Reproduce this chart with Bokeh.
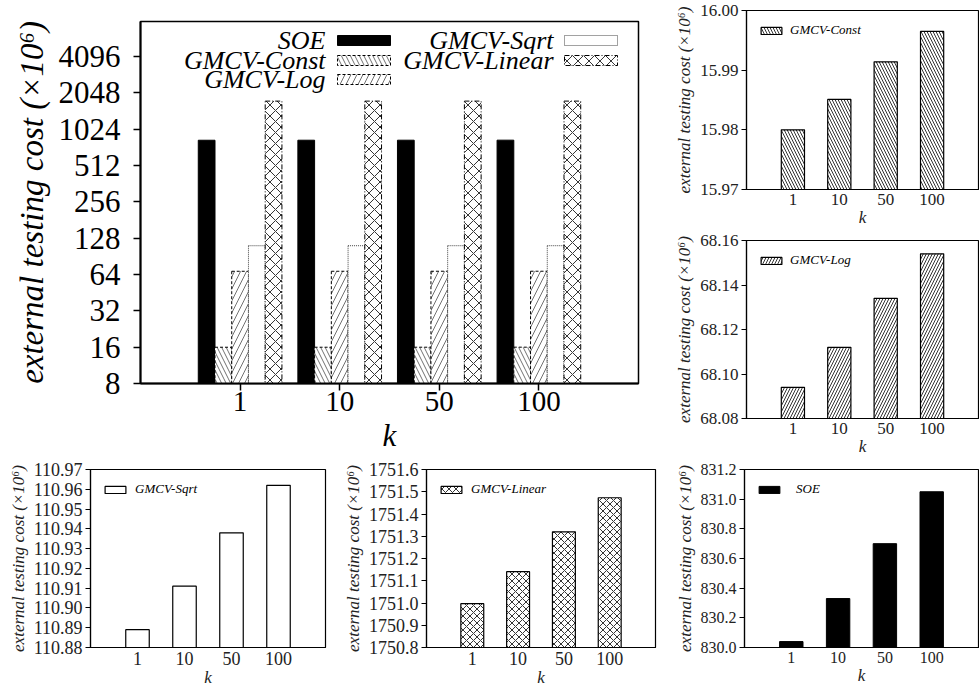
from bokeh.plotting import figure
from bokeh.models import (ColumnDataSource, Range1d, FixedTicker, PrintfTickFormatter,
                          Label, BoxAnnotation, Legend)
from bokeh.layouts import column, row
from bokeh.embed import file_html
from bokeh.resources import INLINE

FONT = "Liberation Serif"

# ---------------- data ----------------
K_LABELS = ["1", "10", "50", "100"]
SERIES = ["SOE", "GMCV-Const", "GMCV-Log", "GMCV-Sqrt", "GMCV-Linear"]
SOE = [830.04, 830.33, 830.70, 831.05]
CONST = [15.9800, 15.9851, 15.9914, 15.9965]
LOG = [68.094, 68.112, 68.134, 68.154]
SQRT = [110.889, 110.911, 110.938, 110.962]
LINEAR = [1750.997, 1751.141, 1751.320, 1751.473]

MAIN_Y_TICKS = [8, 16, 32, 64, 128, 256, 512, 1024, 2048, 4096]
MAIN_Y_MAX = 8000
CONST_TICKS = [15.97, 15.98, 15.99, 16.00]
LOG_TICKS = [68.08, 68.10, 68.12, 68.14, 68.16]
SQRT_TICKS = [110.88, 110.89, 110.90, 110.91, 110.92, 110.93, 110.94, 110.95, 110.96, 110.97]
LINEAR_TICKS = [1750.8, 1750.9, 1751.0, 1751.1, 1751.2, 1751.3, 1751.4, 1751.5, 1751.6]
SOE_TICKS = [830.0, 830.2, 830.4, 830.6, 830.8, 831.0, 831.2]

VALUES = {"SOE": SOE, "GMCV-Const": CONST, "GMCV-Log": LOG,
          "GMCV-Sqrt": SQRT, "GMCV-Linear": LINEAR}

YLABEL = "external testing cost (\u00d710\u2076)"

x_pos = [i + 1 for i in range(len(K_LABELS))]
k_overrides = {x: lab for x, lab in zip(x_pos, K_LABELS)}

# ---------------- styles ----------------
MAIN_STYLE = {
    "SOE": dict(fill_color="black", line_color="black", line_width=1),
    "GMCV-Const": dict(fill_color="white", line_color="black", line_width=1, line_dash="3 2",
                       hatch_pattern="\\", hatch_scale=9, hatch_weight=0.7, hatch_color="#333333"),
    "GMCV-Log": dict(fill_color="white", line_color="black", line_width=1, line_dash="3 2",
                     hatch_pattern="/", hatch_scale=12, hatch_weight=0.7, hatch_color="#333333"),
    "GMCV-Sqrt": dict(fill_color="white", line_color="#444444", line_width=1, line_dash="1 1"),
    "GMCV-Linear": dict(fill_color="white", line_color="black", line_width=1, line_dash="5 2 1 2",
                        hatch_pattern="x", hatch_scale=11, hatch_weight=0.8, hatch_color="black"),
}
SMALL_STYLE = {
    "SOE": dict(fill_color="black", line_color="black", line_width=1),
    "GMCV-Const": dict(fill_color="white", line_color="black", line_width=1.2,
                       hatch_pattern="\\", hatch_scale=6, hatch_weight=0.8, hatch_color="black"),
    "GMCV-Log": dict(fill_color="white", line_color="black", line_width=1.2,
                     hatch_pattern="/", hatch_scale=6, hatch_weight=0.8, hatch_color="black"),
    "GMCV-Sqrt": dict(fill_color="white", line_color="black", line_width=1.2),
    "GMCV-Linear": dict(fill_color="white", line_color="black", line_width=1.2,
                        hatch_pattern="x", hatch_scale=7, hatch_weight=0.8, hatch_color="black"),
}

# ---------------- main chart ----------------
MW, MH = 672, 458
MBL, MBR, MBT, MBB = 140, 34, 21, 75
FW = MW - MBL - MBR
FH = MH - MBT - MBB

main = figure(width=MW, height=MH, x_range=Range1d(0, len(K_LABELS) + 1),
              y_range=Range1d(MAIN_Y_TICKS[0], MAIN_Y_MAX), y_axis_type="log",
              output_backend="svg", toolbar_location=None,
              min_border_left=MBL, min_border_right=MBR, min_border_top=MBT, min_border_bottom=MBB)
main.xgrid.visible = False
main.ygrid.visible = False
main.outline_line_color = "black"
main.outline_line_width = 1.5

bw = 0.168
for j, name in enumerate(SERIES):
    off = (j - (len(SERIES) - 1) / 2) * bw
    src = ColumnDataSource(dict(x=[p + off for p in x_pos], top=VALUES[name]))
    main.vbar(x="x", top="top", bottom=MAIN_Y_TICKS[0], width=bw, source=src, **MAIN_STYLE[name])

main.yaxis.ticker = FixedTicker(ticks=MAIN_Y_TICKS)
main.yaxis.formatter = PrintfTickFormatter(format="%d")
main.xaxis.ticker = FixedTicker(ticks=x_pos)
main.xaxis.major_label_overrides = k_overrides
for ax in (main.xaxis[0], main.yaxis[0]):
    ax.axis_line_width = 2
    ax.axis_line_color = "black"
    ax.major_tick_line_width = 1.5
    ax.major_tick_out = 7
    ax.major_tick_in = 0
    ax.minor_tick_line_color = None
    ax.major_label_text_font = FONT
    ax.major_label_text_color = "black"
    ax.axis_label_text_font = FONT
    ax.axis_label_text_font_style = "italic"
    ax.axis_label_text_color = "black"
main.yaxis.major_label_text_font_size = "31px"
main.yaxis.major_label_standoff = 13
main.yaxis.axis_label = YLABEL
main.yaxis.axis_label_text_font_size = "33px"
main.yaxis.axis_label_standoff = 6
main.xaxis.major_label_text_font_size = "29px"
main.xaxis.major_label_standoff = 1
main.xaxis.axis_label = "k"
main.xaxis.axis_label_text_font_size = "31px"
main.xaxis.axis_label_standoff = 4

# manual legend (label left, swatch right), positions relative to the frame
LEG_ROWS = [("SOE", 0, 0), ("GMCV-Const", 0, 1), ("GMCV-Log", 0, 2),
            ("GMCV-Sqrt", 1, 0), ("GMCV-Linear", 1, 1)]
LEG_COL_TEXT_RIGHT = [185, 413]
LEG_COL_SWATCH = [(197, 250), (424, 477)]
LEG_ROW_DY = [19, 39, 58]
for name, c, r in LEG_ROWS:
    yc = FH - LEG_ROW_DY[r]
    main.add_layout(Label(x=LEG_COL_TEXT_RIGHT[c], y=yc, x_units="screen", y_units="screen",
                          text=name, text_align="right", text_baseline="middle",
                          text_font=FONT, text_font_style="italic", text_font_size="26px",
                          text_color="black"))
    st = dict(MAIN_STYLE[name])
    main.add_layout(BoxAnnotation(left=LEG_COL_SWATCH[c][0], right=LEG_COL_SWATCH[c][1],
                                  bottom=yc - 5, top=yc + 5,
                                  left_units="screen", right_units="screen",
                                  bottom_units="screen", top_units="screen",
                                  fill_alpha=1, line_alpha=1, **st))


# ---------------- small charts ----------------
def small_chart(name, values, ticks, fmt, width, height, borders, x_end, tick_font, standoff):
    mbl, mbr, mbt, mbb = borders
    p = figure(width=width, height=height, x_range=Range1d(0, x_end),
               y_range=Range1d(ticks[0], ticks[-1]),
               output_backend="svg", toolbar_location=None,
               min_border_left=mbl, min_border_right=mbr, min_border_top=mbt, min_border_bottom=mbb)
    p.xgrid.visible = False
    p.ygrid.visible = False
    p.outline_line_color = "black"
    p.outline_line_width = 1.2
    src = ColumnDataSource(dict(x=x_pos, top=values))
    r = p.vbar(x="x", top="top", bottom=ticks[0], width=0.5, source=src, **SMALL_STYLE[name])
    leg = Legend(items=[(name, [r])], location="top_left", margin=6, padding=6,
                 glyph_width=26, glyph_height=9, label_height=10, label_standoff=standoff,
                 label_text_font=FONT, label_text_font_style="italic", label_text_font_size="13px",
                 label_text_color="black", border_line_alpha=0, background_fill_alpha=0)
    p.add_layout(leg)
    p.yaxis.ticker = FixedTicker(ticks=ticks)
    p.yaxis.formatter = PrintfTickFormatter(format=fmt)
    p.xaxis.ticker = FixedTicker(ticks=x_pos)
    p.xaxis.major_label_overrides = k_overrides
    for ax in (p.xaxis[0], p.yaxis[0]):
        ax.axis_line_color = "black"
        ax.axis_line_width = 1.2
        ax.major_tick_in = 0
        ax.minor_tick_line_color = None
        ax.major_label_text_font = FONT
        ax.major_label_text_color = "#222222"
        ax.major_label_text_font_size = tick_font
        ax.axis_label_text_font = FONT
        ax.axis_label_text_font_style = "italic"
        ax.axis_label_text_color = "#222222"
    p.yaxis.major_tick_out = 5
    p.yaxis.major_label_standoff = 3
    p.yaxis.axis_label = YLABEL
    p.yaxis.axis_label_text_font_size = "17px"
    p.yaxis.axis_label_standoff = 3
    p.xaxis.major_tick_out = 0
    p.xaxis.major_label_standoff = 4
    p.xaxis.axis_label = "k"
    p.xaxis.axis_label_text_font_size = "17px"
    p.xaxis.axis_label_standoff = 0
    return p


RW = 307
p_const = small_chart("GMCV-Const", CONST, CONST_TICKS, "%.2f", RW, 229, (69, 1, 10, 37), 5, "17px", 6)
p_log = small_chart("GMCV-Log", LOG, LOG_TICKS, "%.2f", RW, 229, (69, 1, 11, 37), 5, "17px", 6)
p_soe = small_chart("SOE", SOE, SOE_TICKS, "%.1f", RW, 231, (69, 1, 11, 39), 5, "16px", 14)
p_sqrt = small_chart("GMCV-Sqrt", SQRT, SQRT_TICKS, "%.2f", 340, 231, (90, 15, 11, 39), 5, "18px", 7)
p_lin = small_chart("GMCV-Linear", LINEAR, LINEAR_TICKS, "%.1f", 332, 231, (74, 17, 11, 39), 5, "18px", 7)

layout = column(row(main, column(p_const, p_log, spacing=0), spacing=0),
                row(p_sqrt, p_lin, p_soe, spacing=0), spacing=0)

open("out.html", "w").write(file_html(layout, INLINE))
